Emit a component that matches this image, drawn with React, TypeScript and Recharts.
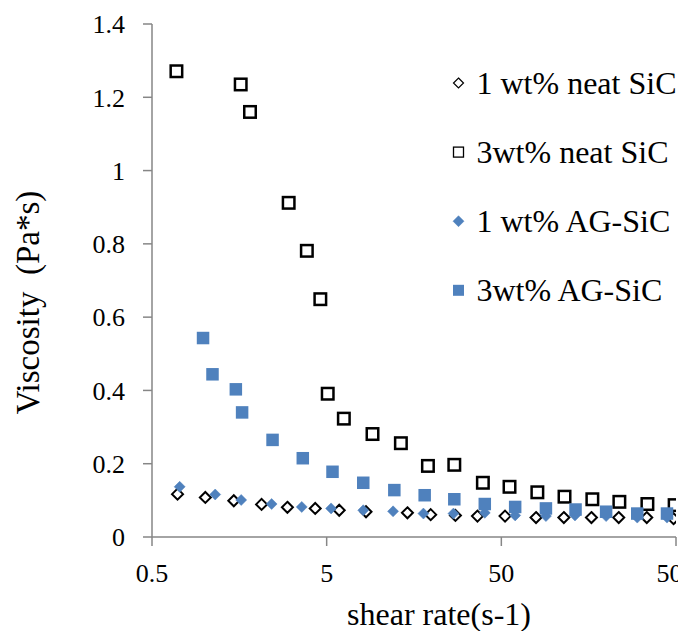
import React from "react";
import {
  ScatterChart,
  Scatter,
  XAxis,
  YAxis,
  Legend,
} from "recharts";

const FONT = "'Liberation Serif', 'Times New Roman', serif";
const AXIS_GREY = "#868686";
const BLUE = "#4F81BD";

// shear rate (s-1) and viscosity (Pa*s)
const neat1X = [0.7, 1.01, 1.47, 2.12, 2.98, 4.3, 5.9, 8.4, 14.5, 19.7, 27.3, 36.5, 52.5, 79, 114, 164, 235, 340, 484];
const neat1Y = [0.117, 0.108, 0.099, 0.089, 0.081, 0.078, 0.073, 0.069, 0.066, 0.061, 0.059, 0.057, 0.057, 0.053, 0.053, 0.053, 0.053, 0.053, 0.05];

const neat3X = [0.69, 1.61, 1.82, 3.03, 3.85, 4.6, 5.07, 6.27, 9.15, 13.3, 19.0, 26.9, 39.2, 55.7, 80.4, 115, 166, 237, 343, 491];
const neat3Y = [1.271, 1.235, 1.16, 0.912, 0.781, 0.649, 0.391, 0.323, 0.281, 0.256, 0.194, 0.197, 0.148, 0.137, 0.122, 0.11, 0.103, 0.096, 0.09, 0.087];

const ag1X = [0.72, 1.15, 1.62, 2.42, 3.6, 5.3, 8.1, 12, 17.9, 26.6, 40.2, 60, 90, 132, 199, 300, 444];
const ag1Y = [0.137, 0.116, 0.101, 0.09, 0.082, 0.078, 0.073, 0.07, 0.064, 0.064, 0.066, 0.059, 0.057, 0.059, 0.057, 0.053, 0.053];

const ag3X = [0.98, 1.11, 1.51, 1.64, 2.45, 3.65, 5.4, 8.1, 12.2, 18.2, 26.9, 40.2, 60, 90, 133, 199, 300, 444];
const ag3Y = [0.543, 0.444, 0.403, 0.34, 0.265, 0.215, 0.178, 0.148, 0.128, 0.114, 0.103, 0.09, 0.082, 0.078, 0.075, 0.069, 0.064, 0.064];

const xTicks = [0.5, 5, 50, 500];
const yTicks = [0, 0.2, 0.4, 0.6, 0.8, 1, 1.2, 1.4];

const seriesNames = ["1 wt% neat SiC", "3wt% neat SiC", "1 wt% AG-SiC", "3wt% AG-SiC"];

const toPoints = (xs: number[], ys: number[]) => xs.map((x, i) => ({ x, y: ys[i] }));

type MarkerKind = "openDiamond" | "openSquare" | "blueDiamond" | "blueSquare";

const markerKinds: MarkerKind[] = ["openDiamond", "openSquare", "blueDiamond", "blueSquare"];

// draws one marker centred at cx, cy
const marker = (kind: MarkerKind, cx: number, cy: number, legend = false) => {
  if (kind === "openDiamond") {
    const r = legend ? 5 : 5.5;
    return (
      <path
        d={`M${cx},${cy - r}L${cx + r},${cy}L${cx},${cy + r}L${cx - r},${cy}Z`}
        fill="#fff"
        stroke="#000"
        strokeWidth={legend ? 1.2 : 2}
      />
    );
  }
  if (kind === "blueDiamond") {
    const r = legend ? 5.5 : 5.5;
    return (
      <path
        d={`M${cx},${cy - r}L${cx + r},${cy}L${cx},${cy + r}L${cx - r},${cy}Z`}
        fill={BLUE}
        stroke={BLUE}
        strokeWidth={0.5}
      />
    );
  }
  if (kind === "openSquare") {
    const s = legend ? 10 : 11.5;
    return (
      <rect
        x={cx - s / 2}
        y={cy - s / 2}
        width={s}
        height={s}
        fill="none"
        stroke="#000"
        strokeWidth={legend ? 1.3 : 2.5}
      />
    );
  }
  const s = legend ? 11 : 12.5;
  return <rect x={cx - s / 2} y={cy - s / 2} width={s} height={s} fill={BLUE} />;
};

const shapeFor = (kind: MarkerKind) => (props: any) => {
  const { cx, cy } = props;
  if (cx == null || cy == null) return <g />;
  return marker(kind, cx, cy);
};

const LegendBox = () => (
  <svg width={238} height={280} style={{ display: "block" }}>
    {seriesNames.map((name, i) => {
      const cy = 33 + i * 69.1;
      return (
        <g key={name}>
          {marker(markerKinds[i], 18.5, cy, true)}
          <text x={36.5} y={cy + 10.5} fontSize={32} fontFamily={FONT} fill="#000">
            {name}
          </text>
        </g>
      );
    })}
  </svg>
);

const XTitle = (props: any) => {
  const { viewBox } = props;
  return (
    <text
      x={viewBox.x + 287}
      y={viewBox.y + 88}
      textAnchor="middle"
      fontSize={32}
      fontFamily={FONT}
      fill="#000"
    >
      shear rate(s-1)
    </text>
  );
};

const YTitle = () => (
  <text
    x={38.5}
    y={302.5}
    transform="rotate(-90, 38.5, 302.5)"
    textAnchor="middle"
    fontSize={33}
    fontFamily={FONT}
    fill="#000"
    style={{ whiteSpace: "pre" }}
  >
    {"Viscosity  (Pa*s)"}
  </text>
);

const ViscosityChart = () => {
  const tickStyle = { fill: "#000", fontSize: 26, fontFamily: FONT };
  return (
    <div
      style={{
        position: "absolute",
        left: 0,
        top: 0,
        width: 678,
        height: 631,
        overflow: "hidden",
        background: "#fff",
      }}
    >
      <ScatterChart
        width={678}
        height={631}
        margin={{ top: 24, right: 2, bottom: 0, left: 0 }}
      >
        <XAxis
          type="number"
          dataKey="x"
          scale="log"
          domain={[0.5, 500]}
          ticks={xTicks}
          interval={0}
          allowDataOverflow
          height={94}
          tickSize={9}
          tickMargin={18}
          axisLine={{ stroke: AXIS_GREY, strokeWidth: 1.5 }}
          tickLine={{ stroke: AXIS_GREY, strokeWidth: 1.5 }}
          tick={tickStyle}
          tickFormatter={(v: number) => String(v)}
          label={<XTitle />}
        />
        <YAxis
          type="number"
          dataKey="y"
          domain={[0, 1.4]}
          ticks={yTicks}
          interval={0}
          width={152}
          tickSize={9}
          tickMargin={18}
          axisLine={{ stroke: AXIS_GREY, strokeWidth: 1.5 }}
          tickLine={{ stroke: AXIS_GREY, strokeWidth: 1.5 }}
          tick={tickStyle}
          tickFormatter={(v: number) => String(v)}
          label={<YTitle />}
        />
        <Legend
          layout="vertical"
          align="center"
          verticalAlign="middle"
          content={() => <LegendBox />}
          wrapperStyle={{ left: 440, top: 50, width: 238, height: 280 }}
        />
        <Scatter
          name={seriesNames[0]}
          data={toPoints(neat1X, neat1Y)}
          shape={shapeFor("openDiamond")}
          isAnimationActive={false}
        />
        <Scatter
          name={seriesNames[1]}
          data={toPoints(neat3X, neat3Y)}
          shape={shapeFor("openSquare")}
          isAnimationActive={false}
        />
        <Scatter
          name={seriesNames[2]}
          data={toPoints(ag1X, ag1Y)}
          shape={shapeFor("blueDiamond")}
          isAnimationActive={false}
        />
        <Scatter
          name={seriesNames[3]}
          data={toPoints(ag3X, ag3Y)}
          shape={shapeFor("blueSquare")}
          isAnimationActive={false}
        />
      </ScatterChart>
    </div>
  );
};

export default function App() {
  return <ViscosityChart />;
}
